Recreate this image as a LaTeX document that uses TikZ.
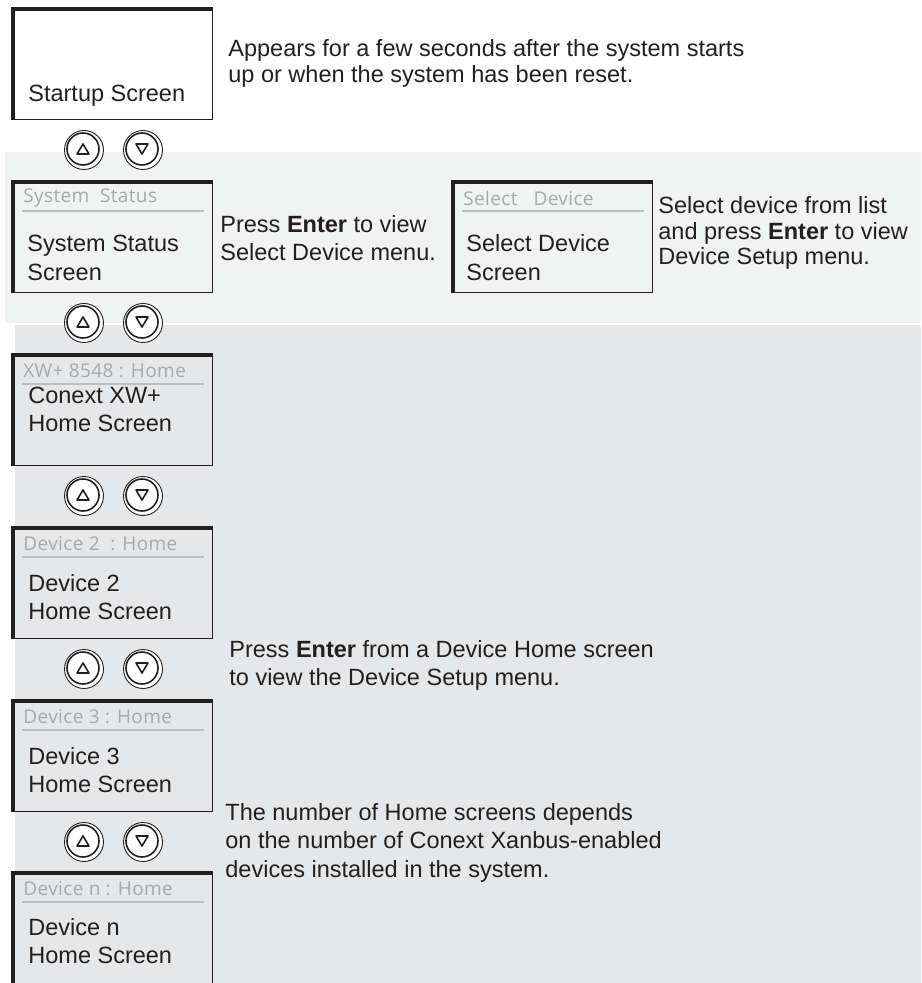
\documentclass[tikz,border=0pt]{standalone}
\usepackage{fontspec}
\setmainfont{Liberation Sans}
\newfontfamily\hdrfont{Open Sans}[LetterSpace=2]
\usetikzlibrary{calc}

\definecolor{lightband}{HTML}{F1F2F2}
\definecolor{darkband}{HTML}{E6E7E8}
\definecolor{scrline}{HTML}{231F20}
\definecolor{hdrgray}{HTML}{A7A9AC}
\definecolor{hdrrule}{HTML}{BCBEC0}

\tikzset{
  screen/.style={draw=scrline, line width=0.6pt, minimum width=99.5pt,
    minimum height=55pt, anchor=north west, inner sep=0pt},
  screenedge/.style={draw=scrline, line width=2pt},
  hdr/.style={anchor=west, inner sep=0pt, text=hdrgray,
    font=\hdrfont\fontsize{9.5pt}{11pt}\selectfont},
  hdrline/.style={draw=hdrrule, line width=1pt},
  % multi-line nodes: base = baseline of the last line
  body/.style={anchor=base west, inner sep=0pt, align=left, text=scrline,
    font=\fontsize{11.75pt}{14.25pt}\selectfont},
  note/.style={anchor=base west, inner sep=0pt, align=left, text=scrline},
  btn/.style={circle, draw=scrline, line width=0.8pt, fill=white,
    minimum size=16pt, inner sep=0pt},
  btnring/.style={draw=scrline, line width=0.45pt, fill=white},
  btnmark/.style={draw=scrline, line width=0.8pt, line join=round},
}

\begin{document}
\begin{tikzpicture}[x=0.5pt, y=-0.5pt]
  \useasboundingbox (0,0) rectangle (921,983);

  % background bands
  \fill[lightband] (5,152) rectangle (921,323);
  \fill[darkband] (15,325) rectangle (921,983);

  % screens
  \node[screen] (startup) at (13,9) {};
  \node[screen] (status) at (13,182) {};
  \node[screen] (select) at (453,182) {};
  \node[screen] (xw) at (13,355) {};
  \node[screen] (dev2) at (13,528) {};
  \node[screen] (dev3) at (13,701) {};
  \node[screen] (devn) at (13,873) {};
  \foreach \s in {startup,status,select,xw,dev2,dev3,devn}
    \draw[screenedge] (\s.south west) -- (\s.north west) -- (\s.north east);

  % title rows
  \foreach \s/\t in {status/System\ \ Status, select/Select\ \ \ Device,
      xw/XW+ 8548 : Home, dev2/Device 2\ \ : Home, dev3/Device 3 : Home,
      devn/Device n : Home}{
    \node[hdr] (\s-hdr) at ($(\s.north west)+(10,16)$) {\t};
    \draw[hdrline] ($(\s.north west)+(9,29)$) -- ($(\s.north east)+(-9,29)$);
  }

  % screen names
  \node[body] (startup-txt) at ($(startup.north west)+(15,93)$) {Startup Screen};
  \node[body] (status-txt) at ($(status.north west)+(14,98.5)$) {System Status\\Screen};
  \node[body] (select-txt) at ($(select.north west)+(13,98.5)$) {Select Device\\Screen};
  \node[body] (xw-txt) at ($(xw.north west)+(15,76.5)$) {Conext XW+\\Home Screen};
  \node[body] (dev2-txt) at ($(dev2.north west)+(15,91.5)$) {Device 2\\Home Screen};
  \node[body] (dev3-txt) at ($(dev3.north west)+(15,91.5)$) {Device 3\\Home Screen};
  \node[body] (devn-txt) at ($(devn.north west)+(15,90.5)$) {Device n\\Home Screen};

  % up / down keys
  \foreach \r/\y in {1/149,2/322,3/495,4/668,5/841}{
    \foreach \b/\x in {up/83,dn/142}{
      \draw[btnring] (\x+1,\y+1) circle[radius=9.75pt];
      \node[btn] (\b\r) at (\x,\y) {};
    }
    \draw[btnmark] ($(up\r)+(-6,5)$) -- ($(up\r)+(0,-5)$) -- ($(up\r)+(6,5)$) -- cycle;
    \draw[btnmark] ($(dn\r)+(-6,-5)$) -- ($(dn\r)+(0,5)$) -- ($(dn\r)+(6,-5)$) -- cycle;
  }

  % notes
  \node[note, font=\fontsize{11.75pt}{13pt}\selectfont] (startnote) at (228,83)
    {Appears for a few seconds after the system starts\\up or when the system has been reset.};
  \node[note, font=\fontsize{11.75pt}{14pt}\selectfont] (statusnote) at (220,261)
    {Press \textbf{Enter} to view\\Select Device menu.};
  \node[note, font=\fontsize{11.75pt}{12.75pt}\selectfont] (selectnote) at (658,265)
    {Select device from list\\and press \textbf{Enter} to view\\Device Setup menu.};
  \node[note, font=\fontsize{11.75pt}{14pt}\selectfont] (homenote) at (229,685)
    {Press \textbf{Enter} from a Device Home screen\\to view the Device Setup menu.};
  \node[note, font=\fontsize{11.75pt}{14.25pt}\selectfont] (countnote) at (225,877)
    {The number of Home screens depends\\on the number of Conext Xanbus-enabled\\devices installed in the system.};
\end{tikzpicture}
\end{document}
